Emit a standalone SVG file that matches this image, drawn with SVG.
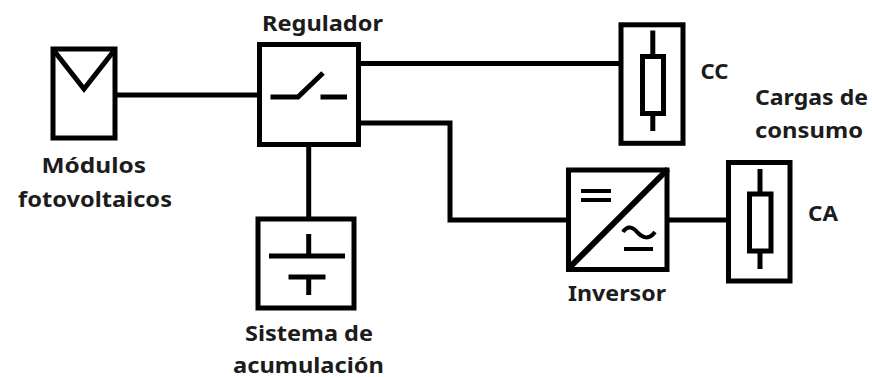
<svg xmlns="http://www.w3.org/2000/svg" width="872" height="377" viewBox="0 0 872 377">
<style>
.s{fill:none;stroke:#000;stroke-width:5}
.b{fill:#fff;stroke:#000;stroke-width:5}
.t{stroke-width:4}
text{font-family:"Noto Sans","Open Sans","DejaVu Sans",sans-serif;font-weight:700;font-size:22px;fill:#1c1c1c}
</style>
<rect width="872" height="377" fill="#fff"/>
<g id="connectors">
<path class="s" d="M117 95H258"/>
<path class="s" d="M361 63.500H620"/>
<path class="s" d="M361 123H450V220H567"/>
<path class="s" d="M308.700 147V218"/>
<path class="s" d="M669 220H727"/>
</g>
<g id="modulos">
<rect class="b" x="53" y="49" width="62" height="89"/>
<path class="s" d="M55 52L84 89L113 52"/>
<text x="41.500" y="172.500" textLength="104.500" lengthAdjust="spacingAndGlyphs">Módulos</text>
<text x="18" y="207" textLength="154" lengthAdjust="spacingAndGlyphs">fotovoltaicos</text>
</g>
<g id="regulador">
<rect class="b" x="259.500" y="44.500" width="99" height="100"/>
<path class="s" d="M270.500 97H298L323 73M320.500 97H347"/>
<text x="262" y="30.500" textLength="121" lengthAdjust="spacingAndGlyphs">Regulador</text>
</g>
<g id="acumulacion">
<rect class="b" x="258" y="219" width="96" height="89"/>
<path class="s" d="M269 256H345M308.700 234V256M288.500 277H325.500M308.700 277V295"/>
<text x="245" y="340.500" textLength="128" lengthAdjust="spacingAndGlyphs">Sistema de</text>
<text x="233" y="372.500" textLength="151" lengthAdjust="spacingAndGlyphs">acumulación</text>
</g>
<g id="carga-cc">
<rect class="b" x="621" y="24.800" width="62" height="118.500"/>
<rect class="b" x="642.500" y="56.500" width="21" height="57"/>
<path class="s" d="M652.800 30.500V54M652.800 116V131"/>
<text x="700.500" y="79" textLength="28" lengthAdjust="spacingAndGlyphs">CC</text>
</g>
<g id="inversor">
<rect class="b" x="568.500" y="170" width="98.500" height="99.500"/>
<path class="s" style="stroke-width:6" d="M568 269L668 169"/>
<path class="s t" d="M581 191H611M581 200H611M624 249H653"/>
<path class="s t" d="M623 232C628 224 634 228 638 233C643 238 649 240 655 232"/>
<text x="568" y="300.500" textLength="98" lengthAdjust="spacingAndGlyphs">Inversor</text>
</g>
<g id="carga-ca">
<rect class="b" x="728.500" y="162.500" width="61.500" height="118.500"/>
<rect class="b" x="749.500" y="194" width="21.500" height="57"/>
<path class="s" d="M760 169V192M760 253V269"/>
<text x="808" y="220.500" textLength="30" lengthAdjust="spacingAndGlyphs">CA</text>
</g>
<g id="cargas-label">
<text x="755" y="105" textLength="113" lengthAdjust="spacingAndGlyphs">Cargas de</text>
<text x="755" y="138" textLength="108" lengthAdjust="spacingAndGlyphs">consumo</text>
</g>
</svg>
